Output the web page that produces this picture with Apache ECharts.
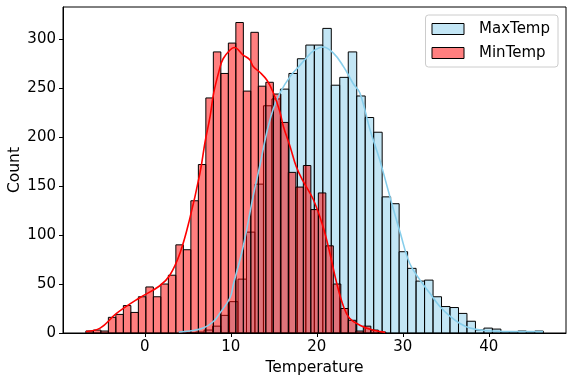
<!DOCTYPE html>
<html>
<head>
<meta charset="utf-8">
<script src="https://cdn.jsdelivr.net/npm/echarts@6/dist/echarts.min.js"></script>
<style>html,body{margin:0;padding:0;background:#fff}#c{width:572px;height:381px}</style>
</head>
<body>
<div id="c"></div>
<script>
// ---- data ----
const xTicks = [0, 10, 20, 30, 40];
const yTicks = [0, 50, 100, 150, 200, 250, 300];

const maxTempStart = 3.93;
const maxTempBinWidth = 0.986;
const maxTempCounts = [1, 0, 1, 3, 7, 18, 32, 55, 103, 152, 232, 239, 249, 265, 280, 294, 294, 311, 253, 261, 287, 242, 220, 205, 139, 132, 83, 66, 53, 54, 37, 27, 26, 20, 12, 3, 5, 4, 1, 1, 2, 1, 2];

const minTempStart = -6.86;
const minTempBinWidth = 0.872;
const minTempCounts = [2, 3, 2, 16, 19, 28, 21, 37, 47, 37, 50, 59, 90, 85, 135, 172, 240, 287, 265, 296, 317, 247, 307, 252, 256, 244, 215, 164, 149, 171, 126, 143, 89, 50, 25, 13, 2, 7, 3, 1];

const maxKdeX = [3.93, 5.2, 6.8, 8.0, 8.7, 9.9, 10.3, 11.4, 12.6, 13.4, 14.15, 14.9, 15.7, 16.9, 18.0, 18.8, 19.6, 20.7, 21.9, 23.1, 24.2, 25.0, 26.2, 27.3, 28.5, 29.7, 30.8, 32.0, 33.1, 34.3, 35.5, 36.6, 37.8, 39.7, 42.4, 46.3];
const maxKdeY = [1, 2, 5, 12, 20, 36, 50, 87, 140, 172, 204, 228, 245, 262, 273, 281, 288, 292, 286, 272, 255, 245, 207, 177, 139, 102, 71, 54, 41, 27, 17, 10, 5, 2.3, 1.6, 1.6];

const minKdeX = [-6.86, -5.2, -3.3, -0.6, 1.7, 2.9, 4.1, 5.2, 6.4, 7.0, 7.6, 8.0, 8.7, 9.1, 9.9, 10.4, 11.4, 12.2, 12.6, 13.4, 14.2, 14.9, 15.7, 16.1, 16.9, 17.6, 18.4, 19.6, 20.7, 21.5, 22.3, 23.1, 23.8, 25.0, 26.5, 27.95];
const minKdeY = [1.6, 5, 20, 36, 48, 59, 82, 116, 163, 195, 222, 245, 270, 280, 289, 291.5, 284, 279, 272, 266, 258, 246, 226, 211, 190, 170, 155, 136, 109, 82, 51, 27, 15, 8, 3, 0.6];

// ---- build ----
function bins(start, w, counts) {
  return counts.map((c, i) => [start + i * w, start + (i + 1) * w, c]);
}
function pairs(xs, ys) { return xs.map((x, i) => [x, ys[i]]); }

const FONT = 'DejaVu Sans';
const blueFill = 'rgba(135,206,235,0.5)';
const redFill = 'rgba(255,0,0,0.5)';

function histRender(fill) {
  return function (params, api) {
    const p0 = api.coord([api.value(0), api.value(2)]);
    const p1 = api.coord([api.value(1), 0]);
    return {
      type: 'rect',
      shape: { x: p0[0], y: p0[1], width: p1[0] - p0[0], height: p1[1] - p0[1] },
      style: { fill: fill, stroke: '#000', lineWidth: 1 }
    };
  };
}

const chart = echarts.init(document.getElementById('c'), null, { renderer: 'canvas' });
chart.setOption({
  animation: false,
  backgroundColor: '#fff',
  textStyle: { fontFamily: FONT },
  grid: { left: 63, right: 6, top: 7, bottom: 48, containLabel: false, outerBoundsMode: 'none',
    show: true, borderColor: '#000', borderWidth: 1, backgroundColor: 'transparent' },
  legend: {
    orient: 'vertical', right: 14, top: 15,
    padding: [5, 8, 5, 6], itemGap: 6, itemWidth: 32, itemHeight: 11,
    backgroundColor: 'rgba(255,255,255,0.8)', borderColor: '#cccccc', borderWidth: 1, borderRadius: 3,
    textStyle: { fontFamily: FONT, fontSize: 15, color: '#000', lineHeight: 18, padding: [0, 0, 0, 10] },
    data: [
      { name: 'MaxTemp', icon: 'rect', itemStyle: { color: blueFill, borderColor: '#000', borderWidth: 1 } },
      { name: 'MinTemp', icon: 'rect', itemStyle: { color: redFill, borderColor: '#000', borderWidth: 1 } }
    ]
  },
  xAxis: {
    type: 'value', min: -9.52, max: 48.97,
    name: 'Temperature', nameLocation: 'middle', nameGap: 27, nameMoveOverlap: false,
    nameTextStyle: { fontFamily: FONT, fontSize: 15.5, color: '#000' },
    axisLine: { show: true, onZero: false, lineStyle: { color: '#000', width: 1 } },
    axisTick: { show: true, length: 4, customValues: xTicks, lineStyle: { color: '#000' } },
    axisLabel: { customValues: xTicks, fontFamily: FONT, fontSize: 15, color: '#000', margin: 7 },
    splitLine: { show: false }
  },
  yAxis: {
    type: 'value', min: 0, max: 332.85,
    name: 'Count', nameLocation: 'middle', nameGap: 40, nameMoveOverlap: false,
    nameTextStyle: { fontFamily: FONT, fontSize: 15.5, color: '#000' },
    axisLine: { show: true, onZero: false, lineStyle: { color: '#000', width: 1 } },
    axisTick: { show: true, length: 4, customValues: yTicks, lineStyle: { color: '#000' } },
    axisLabel: { customValues: yTicks, fontFamily: FONT, fontSize: 15, color: '#000', margin: 7 },
    splitLine: { show: false }
  },
  series: [
    { name: 'MaxTemp', type: 'custom', renderItem: histRender(blueFill), data: bins(maxTempStart, maxTempBinWidth, maxTempCounts),
      itemStyle: { color: blueFill, borderColor: '#000' }, encode: { x: [0, 1], y: 2 }, z: 2 },
    { name: 'MinTemp', type: 'custom', renderItem: histRender(redFill), data: bins(minTempStart, minTempBinWidth, minTempCounts),
      itemStyle: { color: redFill, borderColor: '#000' }, encode: { x: [0, 1], y: 2 }, z: 2 },
    { name: 'MaxTemp KDE', type: 'line', data: pairs(maxKdeX, maxKdeY), smooth: 0.4, showSymbol: false,
      lineStyle: { color: '#87CEEB', width: 1.6 }, itemStyle: { color: '#87CEEB' }, z: 3 },
    { name: 'MinTemp KDE', type: 'line', data: pairs(minKdeX, minKdeY), smooth: 0.4, showSymbol: false,
      lineStyle: { color: '#FF0000', width: 1.6 }, itemStyle: { color: '#FF0000' }, z: 3 }
  ]
});
</script>
</body>
</html>
